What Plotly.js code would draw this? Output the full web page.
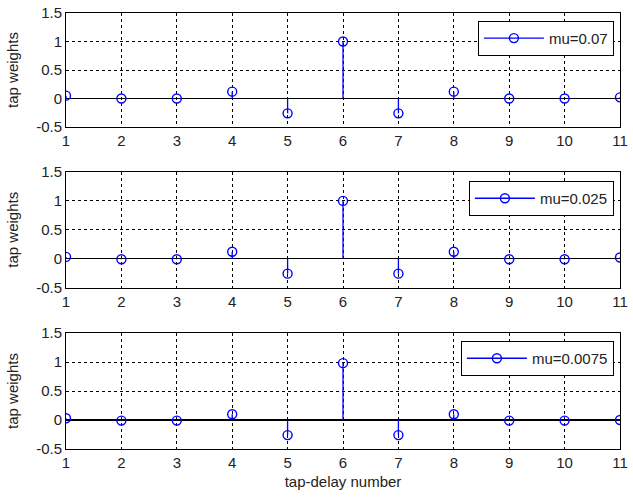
<!DOCTYPE html>
<html>
<head>
<meta charset="utf-8">
<script src="https://cdn.plot.ly/plotly-3.0.1.min.js"></script>
<style>html,body{margin:0;padding:0;background:#fff;}#chart{width:633px;height:497px;}</style>
</head>
<body>
<div id="chart"></div>
<script>
// Data
const taps = [1, 2, 3, 4, 5, 6, 7, 8, 9, 10, 11];
const w_mu070 = [0.05, 0.0, 0.0, 0.12, -0.26, 1.0, -0.26, 0.12, 0.0, 0.0, 0.02];
const w_mu025 = [0.03, -0.01, -0.01, 0.12, -0.26, 1.0, -0.26, 0.12, -0.01, -0.01, 0.02];
const w_mu0075 = [0.03, -0.01, -0.01, 0.10, -0.26, 0.98, -0.26, 0.10, -0.01, -0.01, 0.0];
const seriesNames = ['mu=0.07', 'mu=0.025', 'mu=0.0075'];
const xTicks = [1, 2, 3, 4, 5, 6, 7, 8, 9, 10, 11];
const yTicks = [-0.5, 0, 0.5, 1, 1.5];
const yTickText = ['-0.5', '0', '0.5', '1', '1.5'];

const BLUE = '#0000FF';
const FONT = 'Arial, "Liberation Sans", sans-serif';
const TXT = '#222222';

function stemTrace(vals, name, idx) {
  const x = [], y = [], c = [];
  taps.forEach((t, i) => {
    x.push(t, t, null);
    y.push(vals[i], 0, null);
    c.push(BLUE, 'rgba(0,0,0,0)', 'rgba(0,0,0,0)');
  });
  const sfx = idx === 0 ? '' : String(idx + 1);
  return {
    type: 'scatter', mode: 'lines+markers', x: x, y: y, name: name,
    xaxis: 'x' + sfx, yaxis: 'y' + sfx, legend: 'legend' + sfx,
    connectgaps: false,
    line: {color: BLUE, width: 1.3},
    marker: {symbol: 'circle-open', size: 9, color: c, line: {width: 1.4}},
    hoverinfo: 'skip'
  };
}

const data = [
  stemTrace(w_mu070, seriesNames[0], 0),
  stemTrace(w_mu025, seriesNames[1], 1),
  stemTrace(w_mu0075, seriesNames[2], 2)
];

const domains = [[0.7385, 1.0], [0.3704, 0.6353], [0.0, 0.266]];
const legendTops = [0.982, 0.6147, 0.2477];

function xax(i) {
  return {
    domain: [0, 1], range: [1, 11], anchor: 'y' + (i === 0 ? '' : i + 1),
    tickmode: 'array', tickvals: xTicks, ticktext: xTicks.map(String),
    showgrid: true, gridcolor: '#000', gridwidth: 1, griddash: '3px,3px',
    showline: true, linecolor: '#000', linewidth: 1, mirror: true,
    zeroline: false, ticks: '', automargin: false,
    tickfont: {family: FONT, size: 15, color: TXT},
    title: i === 2 ? {text: 'tap-delay number', font: {family: FONT, size: 15, color: TXT}, standoff: 6} : {text: ''}
  };
}
function yax(i) {
  return {
    domain: domains[i], range: [-0.5, 1.5], anchor: 'x' + (i === 0 ? '' : i + 1),
    tickmode: 'array', tickvals: yTicks, ticktext: yTickText,
    showgrid: true, gridcolor: '#000', gridwidth: 1, griddash: '3px,3px',
    showline: true, linecolor: '#000', linewidth: 1, mirror: true,
    zeroline: true, zerolinecolor: '#000', zerolinewidth: 1.3,
    ticks: '', automargin: false,
    tickfont: {family: FONT, size: 15, color: TXT},
    title: {text: 'tap weights', font: {family: FONT, size: 15, color: TXT}, standoff: 13}
  };
}
function leg(i) {
  return {
    x: 0.989, xanchor: 'right', y: legendTops[i], yanchor: 'top',
    xref: 'paper', yref: 'paper',
    bgcolor: '#fff', bordercolor: '#000', borderwidth: 1,
    font: {family: FONT, size: 15, color: TXT},
    itemwidth: 60
  };
}

const layout = {
  width: 633, height: 497,
  margin: {l: 66, r: 13, t: 13, b: 48},
  paper_bgcolor: '#fff', plot_bgcolor: '#fff',
  showlegend: true,
  xaxis: xax(0), xaxis2: xax(1), xaxis3: xax(2),
  yaxis: yax(0), yaxis2: yax(1), yaxis3: yax(2),
  legend: leg(0), legend2: leg(1), legend3: leg(2)
};

Plotly.newPlot('chart', data, layout, {displayModeBar: false, staticPlot: true});
</script>
</body>
</html>
